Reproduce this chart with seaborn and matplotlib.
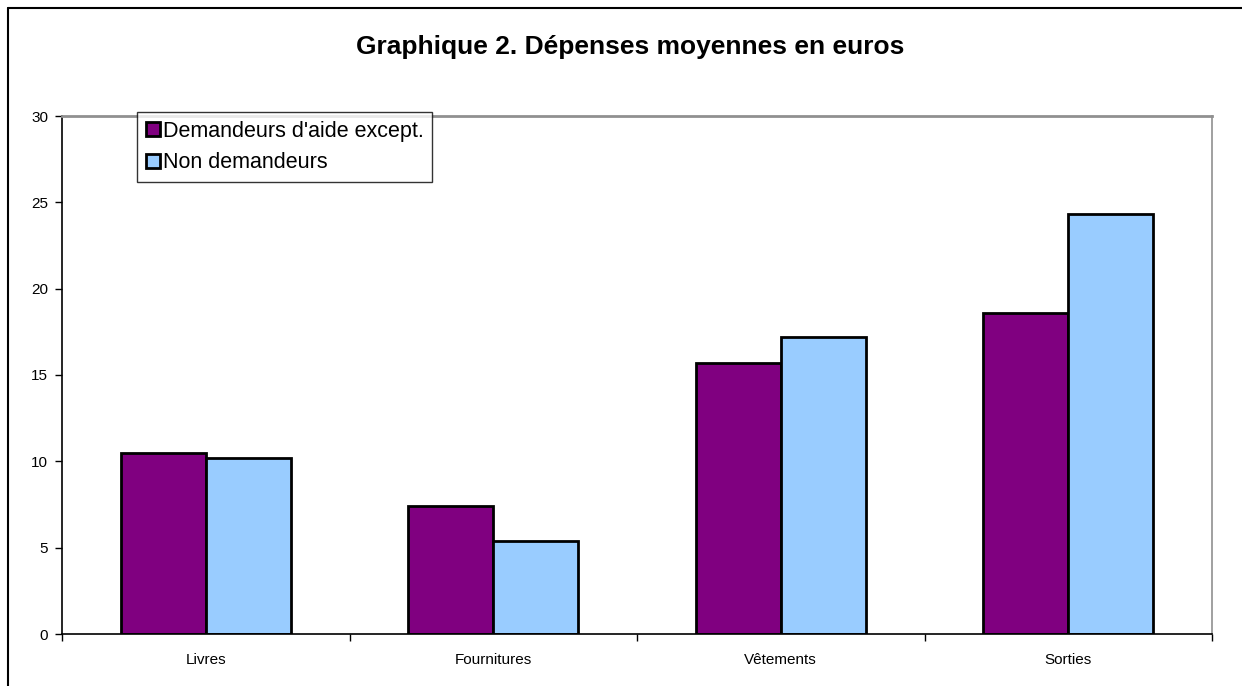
import matplotlib
matplotlib.use("Agg")
import matplotlib.pyplot as plt
from matplotlib.lines import Line2D
import seaborn as sns
import pandas as pd

# Data
categories = ["Livres", "Fournitures", "Vêtements", "Sorties"]
demandeurs = [10.5, 7.4, 15.7, 18.6]
non_demandeurs = [10.2, 5.4, 17.2, 24.3]
series_names = ["Demandeurs d'aide except.", "Non demandeurs"]
y_ticks = [0, 5, 10, 15, 20, 25, 30]

df = pd.DataFrame({
    "categorie": categories * 2,
    "valeur": demandeurs + non_demandeurs,
    "groupe": [series_names[0]] * len(categories) + [series_names[1]] * len(categories),
})

sns.set_theme(style="white")
plt.rcParams['font.family'] = ['Liberation Sans', 'DejaVu Sans']
plt.rcParams.update({
    'text.color': 'black',
    'xtick.color': 'black',
    'ytick.color': 'black',
})

fig = plt.figure(figsize=(12.42, 6.86), dpi=100)
ax = fig.add_axes([62 / 1242, 52 / 686, 1150 / 1242, 518 / 686])

sns.barplot(
    data=df, x="categorie", y="valeur", hue="groupe",
    palette=["#800080", "#99CCFF"], width=0.59,
    edgecolor="black", linewidth=2, saturation=1, ax=ax,
)

ax.set_ylim(0, 30)
ax.set_xlim(-0.5, len(categories) - 0.5)
ax.set_yticks(y_ticks)
ax.set_xlabel("")
ax.set_ylabel("")

# category labels centred, tick marks on the boundaries
ax.set_xticks(range(len(categories)))
ax.set_xticklabels(categories, fontsize=11)
ax.set_xticks([i - 0.5 for i in range(len(categories) + 1)], minor=True)
ax.tick_params(axis="x", which="major", length=0, pad=14)
ax.tick_params(axis="x", which="minor", direction="out", length=5, width=1, color="black")
ax.tick_params(axis="y", direction="out", length=5, width=1, color="black", labelsize=11, pad=5)
ax.yaxis.set_ticks_position("left")
ax.xaxis.set_ticks_position("bottom")

for side in ["left", "bottom"]:
    ax.spines[side].set_color("black")
    ax.spines[side].set_linewidth(1.2)
ax.spines["top"].set_color("#909090")
ax.spines["top"].set_linewidth(2)
ax.spines["right"].set_color("#909090")
ax.spines["right"].set_linewidth(1.2)

handles, labels = ax.get_legend_handles_labels()
leg = ax.legend(
    handles, labels, loc="upper left",
    bbox_to_anchor=(137 / 1242, 1 - 112 / 686), bbox_transform=fig.transFigure,
    frameon=True, fancybox=False, shadow=False, fontsize=15.5,
    handlelength=0.65, handleheight=0.65, handletextpad=0.15,
    borderpad=0.4, labelspacing=0.5, borderaxespad=0,
)
leg.get_frame().set_edgecolor("black")
leg.get_frame().set_linewidth(1)

fig.text(630 / 1242, 1 - 47 / 686, "Graphique 2. Dépenses moyennes en euros",
         ha="center", va="center", fontsize=19, fontweight="bold", color="black")

# outer chart frame (runs past the right and bottom image edges)
fig.add_artist(Line2D([8 / 1242, 8 / 1242], [0, 1 - 8 / 686], color="black", lw=1.5,
                      transform=fig.transFigure))
fig.add_artist(Line2D([8 / 1242, 1], [1 - 8 / 686, 1 - 8 / 686], color="black", lw=1.5,
                      transform=fig.transFigure))

fig.savefig("out.png", dpi=100)
